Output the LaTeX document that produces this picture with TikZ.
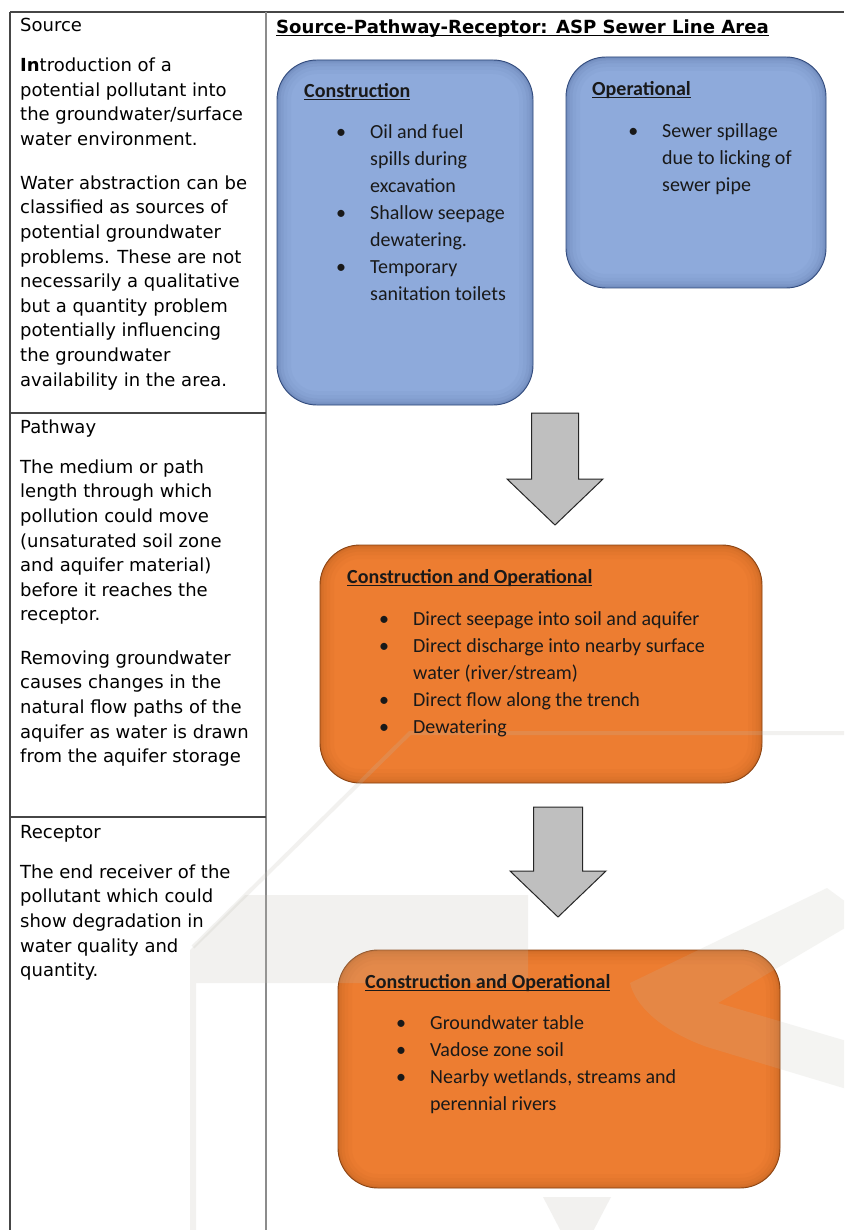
\documentclass[tikz,border=0pt]{standalone}
\usepackage{fontspec}
\setmainfont{DejaVu Sans}
\newfontfamily\boxfont{Carlito}
\definecolor{boxblue}{RGB}{142,170,219}
\definecolor{blueedge}{RGB}{50,75,125}
\definecolor{boxorange}{RGB}{237,125,49}
\definecolor{orangeedge}{RGB}{140,68,18}
\definecolor{arrowgray}{RGB}{191,191,191}
\definecolor{rulecol}{RGB}{70,70,70}
\definecolor{wmcol}{RGB}{190,188,178}
\newcommand\bulletmark{\leavevmode\llap{\textbullet\hspace{24pt}}}
\newcommand\ulx[1]{\setbox0\hbox{#1}\rlap{\rule[-2.6pt]{\wd0}{1.1pt}}\box0}
\begin{document}
\begin{tikzpicture}[x=1pt,y=-1pt,
  rulestyle/.style={draw=rulecol,line width=1.1pt},
  leftpara/.style={font=\fontsize{18}{24.6}\selectfont,anchor=north west,inner sep=0,align=left,text=black},
  lefthead/.style={font=\fontsize{18}{24.6}\selectfont,anchor=base west,inner sep=0,text=black},
  boxtitle/.style={font=\boxfont\bfseries\fontsize{20}{27}\selectfont,anchor=base west,inner sep=0,text=black!90},
  boxitems/.style={font=\boxfont\fontsize{20}{27}\selectfont,anchor=north west,inner sep=0,align=left,text=black!90},
  innershade/.style={path picture={
    \foreach \w/\o in {28/.035,20/.045,13/.06,7/.08,3/.12}{
    \draw[#1,line width=\w pt,opacity=\o,rounded corners=40pt]
      (path picture bounding box.north west) rectangle (path picture bounding box.south east);}}},
  bluecard/.style={rounded corners=40pt,fill=boxblue,draw=blueedge,line width=0.9pt,inner sep=0,outer sep=0,innershade=blueedge},
  orangecard/.style={rounded corners=40pt,fill=boxorange,draw=orangeedge,line width=0.9pt,inner sep=0,outer sep=0,innershade=orangeedge},
  blockarrow/.style={fill=arrowgray,draw=black!85,line width=1pt,line join=miter},
  watermark/.style={fill=wmcol,opacity=.2}
]
\useasboundingbox (0,0) rectangle (844,1230);
\clip (0,0) rectangle (844,1230);
\fill[white] (0,0) rectangle (844,1230);

% table frame
\draw[rulestyle] (10,12) -- (844,12);
\draw[rulestyle] (10,12) -- (10,1230);
\draw[draw=black!45,line width=1.1pt] (266,12) -- (266,1230);
\draw[rulestyle] (10,413) -- (266,413);
\draw[rulestyle] (10,817) -- (266,817);

% left column
\node[lefthead] (srchead) at (20,31.5) {Source};
\node[leftpara] (src1) at (20,54.3) {\strut\textbf{In}troduction of a\\potential pollutant into\\the groundwater/surface\\water environment.};
\node[leftpara] (src2) at (20,171.8) {\strut Water abstraction can be\\classified as sources of\\potential groundwater\\problems. These are not\\necessarily a qualitative\\but a quantity problem\\potentially influencing\\the groundwater\\availability in the area.};
\node[lefthead] (pathhead) at (20,433) {Pathway};
\node[leftpara] (path1) at (20,455.8) {\strut The medium or path\\length through which\\pollution could move\\(unsaturated soil zone\\and aquifer material)\\before it reaches the\\receptor.};
\node[leftpara] (path2) at (20,646.8) {\strut Removing groundwater\\causes changes in the\\natural flow paths of the\\aquifer as water is drawn\\from the aquifer storage};
\node[lefthead] (rechead) at (20,838) {Receptor};
\node[leftpara] (rec1) at (20,860.8) {\strut The end receiver of the\\pollutant which could\\show degradation in\\water quality and\\quantity.};

% right column title
\node[anchor=base west,inner sep=0,font=\bfseries\fontsize{18.1}{22}\selectfont,text=black] (title) at (276,33.5) {\ulx{Source-Pathway-Receptor: ASP Sewer Line Area}};

% cards
\node[bluecard,minimum width=256pt,minimum height=345pt] (constr) at (405,232.5) {};
\node[bluecard,minimum width=260pt,minimum height=231pt] (oper) at (696,172.5) {};
\node[orangecard,minimum width=442pt,minimum height=238pt] (path) at (541,664) {};
\node[orangecard,minimum width=442pt,minimum height=238pt] (recp) at (559,1069) {};

% block arrows
\draw[blockarrow] (531.5,413) -- (578.5,413) -- (578.5,479) -- (603,479) -- (555,525) -- (507,479) -- (531.5,479) -- cycle;
\draw[blockarrow] (533.5,807) -- (582.5,807) -- (582.5,871) -- (606,871) -- (558,917) -- (510,871) -- (533.5,871) -- cycle;

% faint watermark
\fill[watermark] (190,950) -- (245,895) -- (528,895) -- (528,983) -- (196,983) -- (196,1230) -- (190,1230) -- cycle;
\draw[draw=wmcol,opacity=.2,line width=4pt] (193,947) -- (410,733) -- (850,733);
\fill[watermark,opacity=.16] (827,888) -- (850,905) -- (850,925) -- (718,1003) -- (850,1042) -- (850,1090) -- (707,1047) .. controls (660,1030) and (635,1005) .. (630,983) -- cycle;
\fill[watermark] (543,1197) -- (611,1197) -- (577,1262) -- cycle;

% card texts
\node[boxtitle] (constrt) at (304,97.5) {\ulx{Construction}};
\node[boxitems] (constri) at (370,119.6) {\strut\bulletmark Oil and fuel\\spills during\\excavation\\\bulletmark Shallow seepage\\dewatering.\\\bulletmark Temporary\\sanitation toilets};
\node[boxtitle] (opert) at (592,95.5) {\ulx{Operational}};
\node[boxitems] (operi) at (662,118.6) {\strut\bulletmark Sewer spillage\\due to licking of\\sewer pipe};
\node[boxtitle] (patht) at (347,583.5) {\ulx{Construction and Operational}};
\node[boxitems] (pathi) at (413,606.6) {\strut\bulletmark Direct seepage into soil and aquifer\\\bulletmark Direct discharge into nearby surface\\water (river/stream)\\\bulletmark Direct flow along the trench\\\bulletmark Dewatering};
\node[boxtitle] (recpt) at (365,988.5) {\ulx{Construction and Operational}};
\node[boxitems] (recpi) at (430,1010.6) {\strut\bulletmark Groundwater table\\\bulletmark Vadose zone soil\\\bulletmark Nearby wetlands, streams and\\perennial rivers};
\end{tikzpicture}
\end{document}
